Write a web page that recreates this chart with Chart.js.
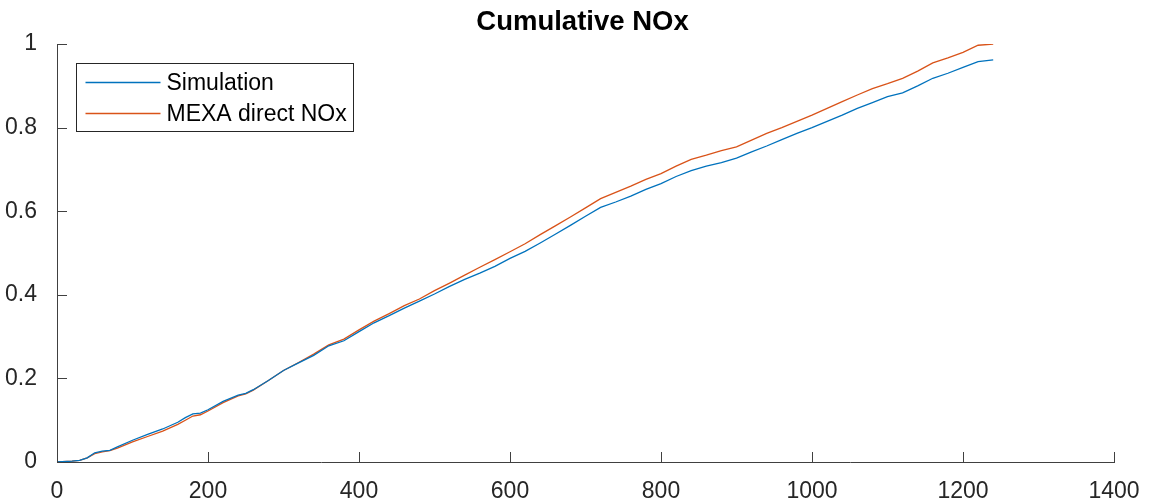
<!DOCTYPE html>
<html>
<head>
<meta charset="utf-8">
<script src="https://cdn.jsdelivr.net/npm/chart.js@4/dist/chart.umd.min.js"></script>
<style>
  html, body { margin: 0; padding: 0; background: #fff; }
  #wrap { width: 1158px; height: 504px; }
</style>
</head>
<body>
<div id="wrap"><canvas id="noxChart" width="1158" height="504"></canvas></div>
<script>
// time axis (s)
const timeValues = [0, 20, 30, 40, 50, 60, 70, 80, 100, 120, 140, 160, 170, 180, 190, 200,
    220, 240, 250, 260, 280, 300, 320, 340, 360, 380, 400, 420, 440, 460, 480, 500,
    520, 540, 560, 580, 600, 620, 640, 660, 680, 700, 720, 740, 760, 780, 800,
    820, 840, 860, 880, 900, 920, 940, 960, 980, 1000, 1020, 1040, 1060, 1080, 1100,
    1120, 1140, 1160, 1180, 1200, 1220, 1240];

const simValues = [0, 0.002, 0.004, 0.01, 0.022, 0.026, 0.028, 0.036, 0.052, 0.066, 0.079, 0.095, 0.106, 0.115, 0.117, 0.125,
    0.145, 0.16, 0.164, 0.173, 0.195, 0.219, 0.237, 0.255, 0.278, 0.29, 0.312, 0.333, 0.35, 0.368, 0.385, 0.402,
    0.42, 0.437, 0.452, 0.468, 0.487, 0.504, 0.524, 0.545, 0.566, 0.588, 0.609, 0.622, 0.636, 0.652, 0.666,
    0.683, 0.697, 0.708, 0.716, 0.727, 0.742, 0.756, 0.771, 0.786, 0.8, 0.815, 0.83, 0.846, 0.86, 0.874,
    0.883, 0.9, 0.918, 0.93, 0.944, 0.958, 0.962];

const mexaValues = [0, 0.002, 0.004, 0.01, 0.02, 0.024, 0.027, 0.033, 0.048, 0.061, 0.074, 0.09, 0.1, 0.11, 0.113, 0.122,
    0.142, 0.158, 0.163, 0.172, 0.195, 0.219, 0.238, 0.258, 0.28, 0.294, 0.316, 0.337, 0.355, 0.374, 0.39, 0.41,
    0.428, 0.447, 0.466, 0.484, 0.503, 0.522, 0.544, 0.565, 0.586, 0.608, 0.63, 0.645, 0.66, 0.676, 0.69,
    0.708, 0.724, 0.734, 0.745, 0.754, 0.77, 0.786, 0.8, 0.815, 0.83, 0.846, 0.862, 0.878, 0.893, 0.905,
    0.918, 0.935, 0.955, 0.967, 0.98, 0.997, 1.0];

const seriesNames = ['Simulation', 'MEXA direct NOx'];
const seriesColors = ['#0072BD', '#D95319'];
const axisColor = '#404040';
const textColor = '#262626';

function toPoints(xs, ys) {
    return xs.map((x, i) => ({ x: x, y: ys[i] }));
}

// matlab style ticks pointing into the plot
const inwardTicks = {
    id: 'inwardTicks',
    afterLayout(chart) {
        // center the title over the axes, not the whole canvas
        if (chart.titleBlock) {
            chart.titleBlock.left = chart.chartArea.left - 6;
            chart.titleBlock.right = chart.chartArea.right;
        }
    },
    afterDatasetsDraw(chart) {
        const { ctx, chartArea, scales: { x, y } } = chart;
        ctx.save();
        ctx.strokeStyle = axisColor;
        ctx.lineWidth = 1;
        ctx.beginPath();
        x.ticks.forEach((t, i) => {
            const px = Math.round(x.getPixelForTick(i)) + 0.5;
            ctx.moveTo(px, chartArea.bottom);
            ctx.lineTo(px, chartArea.bottom - 10);
        });
        y.ticks.forEach((t, i) => {
            const py = Math.round(y.getPixelForTick(i)) + 0.5;
            ctx.moveTo(chartArea.left, py);
            ctx.lineTo(chartArea.left + 10, py);
        });
        ctx.stroke();
        ctx.restore();
    }
};

// boxed legend inside the axes, top left
const boxLegend = {
    id: 'boxLegend',
    afterDraw(chart) {
        const { ctx, chartArea } = chart;
        const left = chartArea.left + 19.5, top = chartArea.top + 19.5;
        const w = 277, h = 68;
        ctx.save();
        ctx.fillStyle = '#fff';
        ctx.fillRect(left, top, w, h);
        ctx.strokeStyle = textColor;
        ctx.lineWidth = 1;
        ctx.strokeRect(left, top, w, h);
        ctx.font = '23px "Liberation Sans", Arial, sans-serif';
        ctx.textBaseline = 'middle';
        chart.data.datasets.forEach((ds, i) => {
            const cy = top + 19 + i * 31;
            ctx.strokeStyle = ds.borderColor;
            ctx.lineWidth = 1.5;
            ctx.beginPath();
            ctx.moveTo(left + 9, cy);
            ctx.lineTo(left + 84, cy);
            ctx.stroke();
            ctx.fillStyle = '#000';
            ctx.fillText(ds.label, left + 90, cy + 1);
        });
        ctx.restore();
    }
};

const ds = [
    { label: seriesNames[0], data: toPoints(timeValues, simValues) },
    { label: seriesNames[1], data: toPoints(timeValues, mexaValues) }
].map((d, i) => Object.assign(d, {
    borderColor: seriesColors[i],
    backgroundColor: seriesColors[i],
    borderWidth: 1.3,
    pointRadius: 0,
    tension: 0,
    fill: false
}));

const tickFont = { family: '"Liberation Sans", Arial, sans-serif', size: 23 };

new Chart(document.getElementById('noxChart').getContext('2d'), {
    type: 'line',
    data: { datasets: ds },
    options: {
        responsive: false,
        animation: false,
        layout: { padding: { left: 0, right: 44, top: 0, bottom: 0 } },
        plugins: {
            legend: { display: false },
            tooltip: { enabled: false },
            title: {
                display: true,
                text: 'Cumulative NOx',
                color: '#000',
                font: { family: '"Liberation Sans", Arial, sans-serif', size: 27.5, weight: 'bold', lineHeight: 1.2 },
                padding: { top: 6, bottom: 5 }
            }
        },
        scales: {
            x: {
                type: 'linear',
                min: 0,
                max: 1400,
                grid: { display: false },
                border: { display: true, color: axisColor, width: 1 },
                ticks: { stepSize: 200, color: textColor, font: tickFont, padding: 8, maxRotation: 0,
                    callback: v => String(v) },
                afterFit(scale) { scale.height = 42; }
            },
            y: {
                min: 0,
                max: 1,
                grid: { display: false },
                border: { display: true, color: axisColor, width: 1 },
                ticks: { stepSize: 0.2, color: textColor, font: tickFont, padding: 12,
                    callback: v => String(Math.round(v * 10) / 10) },
                afterFit(scale) { scale.width = 57; }
            }
        }
    },
    plugins: [inwardTicks, boxLegend]
});
</script>
</body>
</html>
